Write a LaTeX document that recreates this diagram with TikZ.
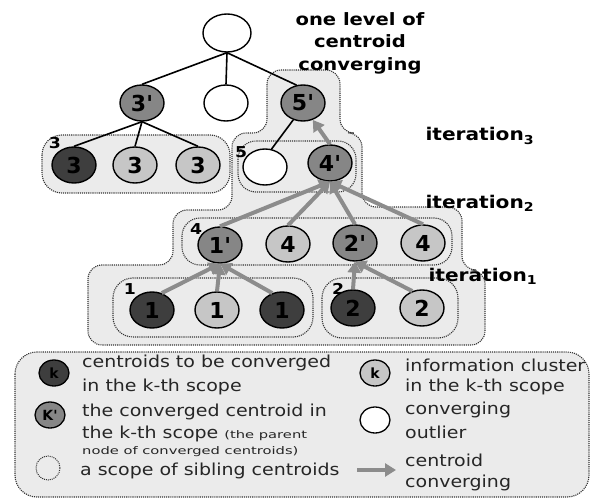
\documentclass[tikz,border=0pt]{standalone}
\usepackage{fontspec}
\setmainfont{DejaVu Sans}[FakeStretch=1.15]
\newfontfamily\numfont{DejaVu Sans}
\newfontfamily\notefont{DejaVu Sans}[FakeStretch=1.4]
\usetikzlibrary{shapes.geometric,arrows.meta}

\definecolor{darkc}{HTML}{3E3E3E}
\definecolor{midc}{HTML}{868686}
\definecolor{lightc}{HTML}{C6C6C6}
\definecolor{areac}{HTML}{EBEBEB}
\definecolor{arrowc}{HTML}{8C8C8C}

\tikzset{
  cnode/.style={ellipse, draw=black, line width=1.4pt, minimum width=44pt,
    minimum height=36pt, inner sep=0pt,
    font=\numfont\bfseries\fontsize{22}{22}\selectfont},
  dk/.style={cnode, fill=darkc},
  md/.style={cnode, fill=midc},
  lt/.style={cnode, fill=lightc},
  wt/.style={cnode, fill=white},
  lgc/.style={ellipse, draw=black, line width=1.3pt, minimum width=30pt,
    minimum height=26pt, inner sep=0pt,
    font=\numfont\bfseries\fontsize{14}{14}\selectfont},
  scopeline/.style={draw=black!80, line width=1.1pt, densely dotted},
  tree/.style={line width=1.6pt, black},
  conv/.style={draw=arrowc, line width=4pt, -{Triangle[length=11pt,width=13pt]}},
  slabel/.style={font=\bfseries\fontsize{15}{15}\selectfont},
  title/.style={align=center, font=\bfseries\fontsize{17}{22.5}\selectfont},
  iter/.style={anchor=west, font=\bfseries\fontsize{17.5}{17.5}\selectfont},
  lgtext/.style={anchor=west, inner sep=0pt, text=black!85,
    font=\fontsize{16.5}{18}\selectfont},
  lgsmall/.style={anchor=west, inner sep=0pt, text=black!85,
    font=\notefont\fontsize{10.5}{12}\selectfont},
}

\begin{document}
\begin{tikzpicture}[x=1pt, y=-1pt]
\useasboundingbox (0,0) rectangle (592,500);

% shaded region of one level of converging
\draw[scopeline, fill=areac, rounded corners=14]
  (267,70) -- (340,70) -- (340,133) -- (362,133) -- (362,207) -- (462,207)
  -- (462,270) -- (485,270) -- (485,345) -- (88,345) -- (88,265)
  -- (173,265) -- (173,210) -- (232,210) -- (232,133) -- (267,133) -- cycle;

% scopes of sibling centroids
\draw[scopeline, fill=areac, rounded corners=20] (42,135) rectangle (230,193);
\draw[scopeline, rounded corners=18] (238,141) rectangle (356,192);
\draw[scopeline, rounded corners=18] (182,218) rectangle (452,265);
\draw[scopeline, rounded corners=20] (113,278) rectangle (313,337);
\draw[scopeline, rounded corners=20] (322,278) rectangle (458,338);

% legend frame
\draw[scopeline, fill=areac, rounded corners=22] (15,352) rectangle (589,497);

% scope numbers
\node[slabel] (l3) at (55,143) {3};
\node[slabel] (l5) at (241,152) {5};
\node[slabel] (l4) at (196,229) {4};
\node[slabel] (l1) at (130,289) {1};
\node[slabel] (l2) at (338,289) {2};

% centroid tree
\node[wt, minimum width=48pt, minimum height=38pt] (root) at (227,33) {};
\node[md] (n3p) at (142,103) {3'};
\node[wt] (nw) at (226,103) {};
\node[md] (n5p) at (303,103) {5'};
\node[dk] (a3) at (74,165) {3};
\node[lt] (b3) at (135,165) {3};
\node[lt] (c3) at (198,165) {3};
\node[wt] (w5) at (265,167) {};
\node[md] (n4p) at (330,163) {4'};
\node[md] (n1p) at (220,245) {1'};
\node[lt] (d4) at (288,244) {4};
\node[md] (n2p) at (355,243) {2'};
\node[lt] (e4) at (423,243) {4};
\node[dk] (a1) at (152,310) {1};
\node[lt] (b1) at (217,310) {1};
\node[dk] (c1) at (282,310) {1};
\node[dk] (a2) at (353,308) {2};
\node[lt] (b2) at (422,308) {2};

% tree edges
\draw[tree] (root.south) -- (n3p.north);
\draw[tree] (root.south) -- (nw.north);
\draw[tree] (root.south) -- (n5p.110);
\draw[tree] (n3p.south) -- (a3.north);
\draw[tree] (n3p.south) -- (b3.north);
\draw[tree] (n3p.south) -- (c3.north);
\draw[tree] (n5p.240) -- (w5.70);

% converging arrows
\draw[conv] (n4p.north) -- (n5p.300);
\draw[conv] (n1p.north) -- (n4p.south);
\draw[conv] (d4.north) -- (n4p.south);
\draw[conv] (n2p.north) -- (n4p.south);
\draw[conv] (e4.north) -- (n4p.south);
\draw[conv] (a1.60) -- (n1p.south);
\draw[conv] (b1.north) -- (n1p.south);
\draw[conv] (c1.120) -- (n1p.south);
\draw[conv] (a2.north) -- (n2p.south);
\draw[conv] (b2.120) -- (n2p.south);

% titles
\node[title] (ttl) at (360,43) {one level of\\centroid\\converging};
\node[iter] (it3) at (422,136) {iteration\textsubscript{3}};
\node[iter] (it2) at (422,203) {iteration\textsubscript{2}};
\node[iter] (it1) at (425,276) {iteration\textsubscript{1}};

% legend
\node[lgc, fill=darkc] (kd) at (54,373) {k};
\node[lgtext] (t1) at (82,363) {centroids to be converged};
\node[lgtext] (t2) at (82,387) {in the k-th scope};
\node[lgc, fill=midc] (kp) at (50,415) {K'};
\node[lgtext] (t3) at (82,412) {the converged centroid in};
\node[lgtext] (t4) at (82,434) {the k-th scope {\notefont\fontsize{10.5}{12}\selectfont(the parent}};
\node[lgsmall] (t5) at (82,452) {node of converged centroids)};
\node[ellipse, draw=black!80, line width=1pt, densely dotted, minimum width=24pt,
  minimum height=24pt, inner sep=0pt] (ks) at (48,468) {};
\node[lgtext] (t6) at (80,471) {a scope of sibling centroids};

\node[lgc, fill=lightc] (kl) at (375,373) {k};
\node[lgtext] (t7) at (405,365) {information cluster};
\node[lgtext] (t8) at (405,387) {in the k-th scope};
\node[lgc, fill=white] (kw) at (375,420) {};
\node[lgtext] (t9) at (405,410) {converging};
\node[lgtext] (t10) at (405,432) {outlier};
\coordinate (as) at (357,470);
\coordinate (ae) at (396,470);
\draw[conv] (as) -- (ae);
\node[lgtext] (t11) at (405,460) {centroid};
\node[lgtext] (t12) at (405,483) {converging};
\end{tikzpicture}
\end{document}
